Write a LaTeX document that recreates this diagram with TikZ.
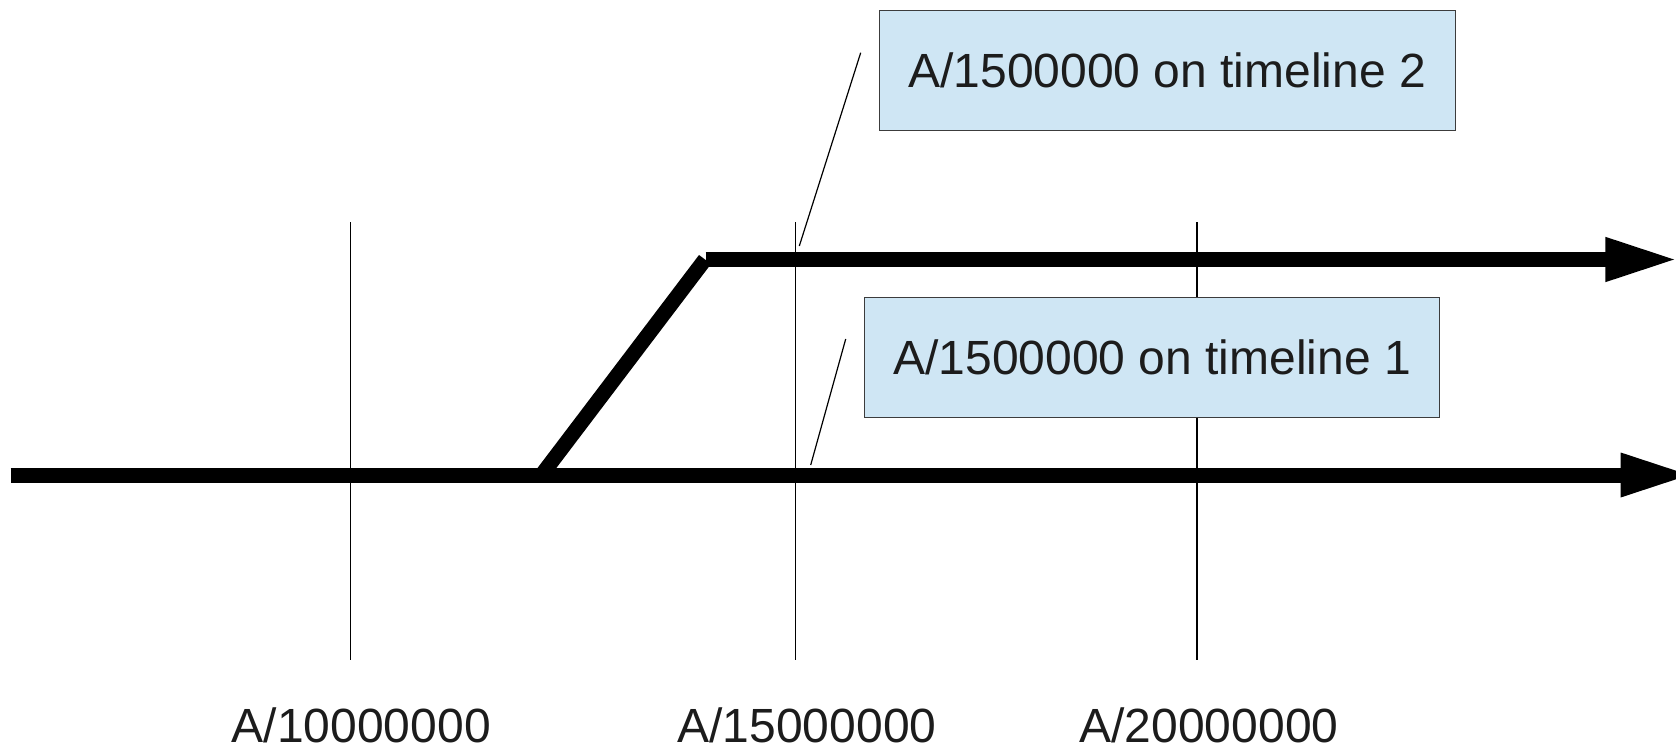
\documentclass[tikz,border=0pt]{standalone}
\usepackage{fontspec}
\setmainfont{Liberation Sans}
\definecolor{boxfill}{RGB}{207,230,244}
\definecolor{boxedge}{RGB}{60,60,60}
\definecolor{textgray}{RGB}{28,28,28}
\begin{document}
\begin{tikzpicture}[x=1pt,y=-1pt,
  track/.style={line width=15pt, line cap=butt, black},
  tipfill/.style={fill=black},
  tickline/.style={line width=1.2pt, black},
  leader/.style={line width=1.2pt, black},
  callout/.style={draw=boxedge, fill=boxfill, line width=1pt,
    minimum width=575.5pt, minimum height=120.5pt, inner sep=0pt,
    font=\fontsize{48}{56}\selectfont, text=textgray},
  axislabel/.style={font=\fontsize{48}{56}\selectfont, text=textgray,
    inner sep=0pt, anchor=base}]
  \useasboundingbox (0,0) rectangle (1676,749);
  \clip (0,0) rectangle (1676,749);

  % grid ticks for the three addresses
  \foreach \n/\x in {ta/350.6, tb/795.7, tc/1197} {
    \coordinate (\n top) at (\x,222);
    \coordinate (\n bot) at (\x,659.5);
    \draw[tickline] (\n top) -- (\n bot);
  }

  % timeline 1 (bottom)
  \coordinate (t1start) at (10.7,475);
  \coordinate (t1end) at (1622,475);
  \draw[track] (t1start) -- (t1end);
  \fill[tipfill] (1620.7,452.5) -- (1689,475) -- (1620.7,497.5) -- cycle;

  % timeline 2 branching off timeline 1
  \coordinate (fork) at (541.6,475);
  \coordinate (t2start) at (705,259.5);
  \coordinate (t2end) at (1607,259.5);
  \draw[track] (fork) -- (t2start);
  \draw[track] (705.5,259.5) -- (t2end);
  \fill[tipfill] (1605.3,236.8) -- (1674,259.5) -- (1605.3,282.2) -- cycle;

  % callouts
  \node[callout] (box2) at (1167.3,70.6) {A/1500000 on timeline 2};
  \node[callout] (box1) at (1152.2,357.7) {A/1500000 on timeline 1};

  \coordinate (lead2a) at (860.7,52.7);
  \coordinate (lead2b) at (799.3,246);
  \draw[leader] (lead2a) -- (lead2b);
  \coordinate (lead1a) at (845.7,339);
  \coordinate (lead1b) at (810.7,465);
  \draw[leader] (lead1a) -- (lead1b);

  % address labels
  \node[axislabel] (la) at (361.3,742.7) {A/10000000};
  \node[axislabel] (lb) at (807,742.7) {A/15000000};
  \node[axislabel] (lc) at (1209,742.7) {A/20000000};
\end{tikzpicture}
\end{document}
